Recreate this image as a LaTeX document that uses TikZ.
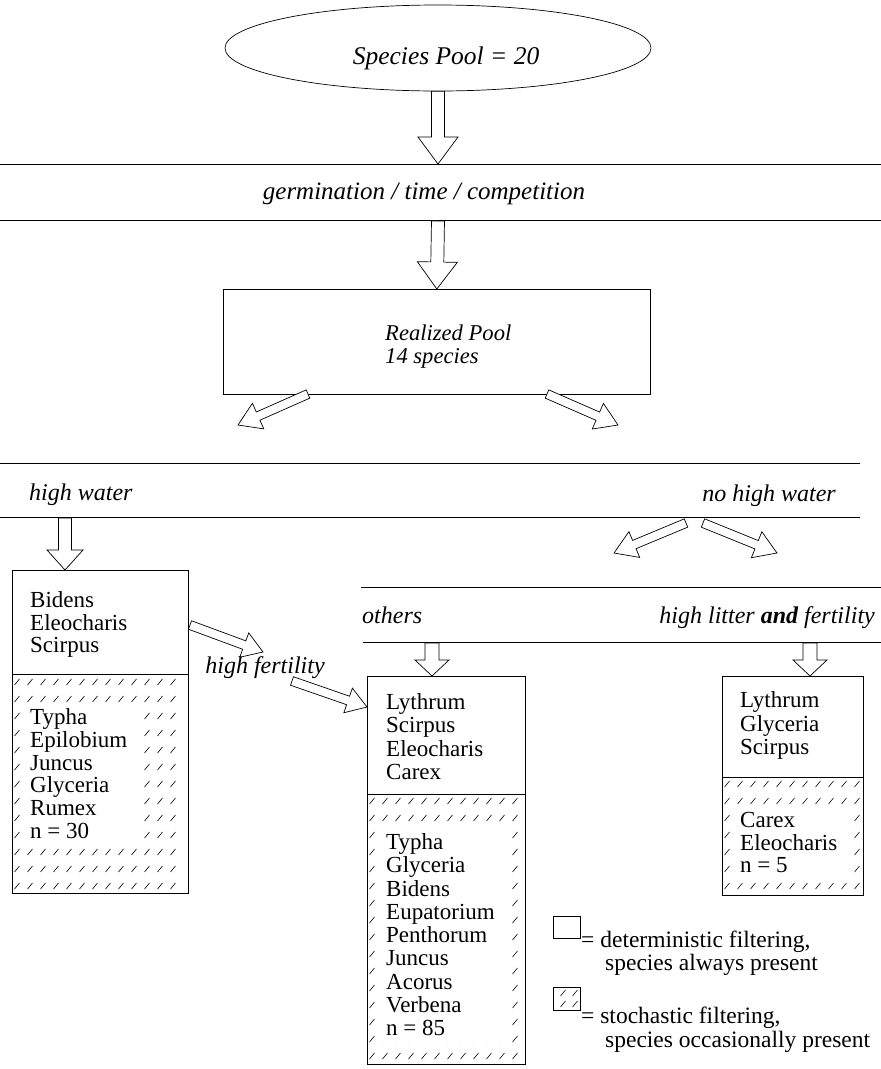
\documentclass[tikz,border=0pt]{standalone}
\usepackage{fontspec}
\setmainfont{Liberation Serif}
\usetikzlibrary{calc,shapes.geometric}
\tikzset{
  hline/.style={line width=0.7pt},
  bx/.style={draw, line width=0.7pt, inner sep=0pt},
  barr/.style={draw, line width=0.7pt, fill=white, line join=miter},
  lab/.style={font=\fontsize{24}{24}\selectfont\itshape, inner sep=0pt, anchor=base},
  sp/.style={font=\fontsize{23}{23}\selectfont, inner sep=0pt, anchor=base west},
  leg/.style={font=\fontsize{23.5}{23.5}\selectfont, inner sep=0pt, anchor=base west},
  hs/.style={line width=0.6pt, line cap=round},
}
% block arrow: from, to, shaft half width, head half width, head length
\newcommand\barrow[5]{%
  \coordinate (hb) at ($(#2)!#5!(#1)$);
  \draw[barr] ($(#1)!#3!90:(#2)$) -- ($(hb)!#3!90:(#2)$) -- ($(hb)!#4!90:(#2)$)
    -- (#2) -- ($(hb)!#4!-90:(#2)$) -- ($(hb)!#3!-90:(#2)$) -- ($(#1)!#3!-90:(#2)$) -- cycle;
}
\newcommand\hatchgrid[6]{%
  \foreach \hx in {#1,#2,...,#3}
    \foreach \hy in {#4,#5,...,#6}
      \draw[hs] ({\hx-2.5},{\hy+3}) -- ({\hx+2.5},{\hy-3});
}
\begin{document}
\begin{tikzpicture}[x=1pt,y=-1pt]
\useasboundingbox (0,0) rectangle (881,1069);

% ---- top: species pool
\node[draw, ellipse, line width=0.7pt, minimum width=426pt, minimum height=86pt] (pool) at (438,48) {};
\node[font=\fontsize{25.5}{25.5}\selectfont\itshape, inner sep=0pt] (pooltxt) at (446,58) {Species Pool = 20};

\draw[hline] (0,164) -- (881,164);
\node[lab, font=\fontsize{25}{25}\selectfont\itshape] (germ) at (424,199) {germination / time / competition};
\draw[hline] (0,220) -- (881,220);

\coordinate (a1e) at (438,164);
\barrow{pool.south}{a1e}{6.5pt}{20pt}{27pt}

% ---- realized pool
\node[bx, minimum width=427pt, minimum height=105pt, anchor=north west] (real) at (223,289) {};
\node[font=\fontsize{22.6}{22.6}\selectfont\itshape, inner sep=0pt, anchor=base west] (rp1) at (385,340) {Realized Pool};
\node[font=\fontsize{22.6}{22.6}\selectfont\itshape, inner sep=0pt, anchor=base west] (rp2) at (385,363) {14 species};

\coordinate (a2s) at (438,221);
\barrow{a2s}{real.north}{6.5pt}{20pt}{27pt}

\coordinate (a3s) at (308,394);
\coordinate (a3e) at (238,425);
\barrow{a3s}{a3e}{4.5pt}{14pt}{22pt}
\coordinate (a4s) at (547,394);
\coordinate (a4e) at (618,425);
\barrow{a4s}{a4e}{4.5pt}{14pt}{22pt}

% ---- water level
\draw[hline] (0,463) -- (860,463);
\node[lab, anchor=base west] (hw) at (29,500) {high water};
\node[lab, anchor=base east] (nhw) at (836,501) {no high water};
\draw[hline] (0,517) -- (860,517);

% ---- left box (high water)
\hatchgrid{17}{30}{185}{682}{699}{889}
\fill[white] (23,704) rectangle (141,842);
\node[bx, minimum width=176pt, minimum height=323pt, anchor=north west] (lbox) at (12,570) {};
\draw[line width=0.7pt] (12,674) -- (188,674);
\foreach \t [count=\i] in {Bidens,Eleocharis,Scirpus}
  \node[sp] (lt\i) at (30,{607.5+22.5*(\i-1)}) {\t};
\foreach \t [count=\i] in {Typha,Epilobium,Juncus,Glyceria,Rumex,n = 30}
  \node[sp] (lb\i) at (30,{724.5+22.8*(\i-1)}) {\t};

\coordinate (a5s) at (65,518);
\coordinate (a5e) at (65,570);
\barrow{a5s}{a5e}{6.5pt}{18pt}{20pt}

% ---- no high water split
\coordinate (a6s) at (686,523);
\coordinate (a6e) at (614,553);
\barrow{a6s}{a6e}{4.5pt}{14pt}{22pt}
\coordinate (a7s) at (703,523);
\coordinate (a7e) at (777,553);
\barrow{a7s}{a7e}{4.5pt}{14pt}{22pt}

\draw[hline] (361,587) -- (881,587);
\node[lab, anchor=base west] (oth) at (362,623) {others};
\node[lab, anchor=base east] (hlf) at (875,623) {high litter \textbf{and} fertility};
\draw[hline] (363,642) -- (881,642);

% ---- middle box
\hatchgrid{372}{385}{520}{801}{818}{1060}
\fill[white] (378,826) rectangle (508,1042);
\node[bx, minimum width=158pt, minimum height=388pt, anchor=north west] (mbox) at (367,676) {};
\draw[line width=0.7pt] (367,794) -- (525,794);
\foreach \t [count=\i] in {Lythrum,Scirpus,Eleocharis,Carex}
  \node[sp] (mt\i) at (386,{709.5+23.3*(\i-1)}) {\t};
\foreach \t [count=\i] in {Typha,Glyceria,Bidens,Eupatorium,Penthorum,Juncus,Acorus,Verbena,n = 85}
  \node[sp] (mb\i) at (386,{849.5+23.25*(\i-1)}) {\t};

\coordinate (a8s) at (432,643);
\coordinate (a8e) at (432,676);
\barrow{a8s}{a8e}{7pt}{17pt}{16pt}

% ---- right box
\hatchgrid{727}{740}{858}{784}{801}{890}
\fill[white] (735,808) rectangle (848,877);
\node[bx, minimum width=141pt, minimum height=219pt, anchor=north west] (rbox) at (722,676) {};
\draw[line width=0.7pt] (722,777) -- (863,777);
\foreach \t [count=\i] in {Lythrum,Glyceria,Scirpus}
  \node[sp] (rt\i) at (740,{707.5+23.5*(\i-1)}) {\t};
\foreach \t [count=\i] in {Carex,Eleocharis,n = 5}
  \node[sp] (rb\i) at (740,{827.5+22.5*(\i-1)}) {\t};

\coordinate (a9s) at (810,643);
\coordinate (a9e) at (810,676);
\barrow{a9s}{a9e}{7pt}{17pt}{16pt}

% ---- high fertility
\coordinate (a10s) at (190,625);
\coordinate (a10e) at (263,652);
\barrow{a10s}{a10e}{4.5pt}{13pt}{20pt}
\node[lab] (hf) at (265,673) {high fertility};
\coordinate (a11s) at (292,681);
\coordinate (a11e) at (367,707);
\barrow{a11s}{a11e}{4.5pt}{13pt}{20pt}

% ---- legend
\node[bx, minimum width=27pt, minimum height=22pt, anchor=north west] (leg1) at (553,916) {};
\node[leg] (lg1a) at (581,947) {= deterministic filtering,};
\node[leg] (lg1b) at (605,970) {species always present};
\draw[hs] (560.5,996) -- (565.5,990);
\draw[hs] (572.5,996) -- (577.5,990);
\draw[hs] (560.5,1007) -- (565.5,1001);
\draw[hs] (572.5,1007) -- (577.5,1001);
\node[bx, minimum width=27pt, minimum height=23pt, anchor=north west] (leg2) at (553,987) {};
\node[leg] (lg2a) at (581,1023) {= stochastic filtering,};
\node[leg] (lg2b) at (605,1047) {species occasionally present};
\end{tikzpicture}
\end{document}
